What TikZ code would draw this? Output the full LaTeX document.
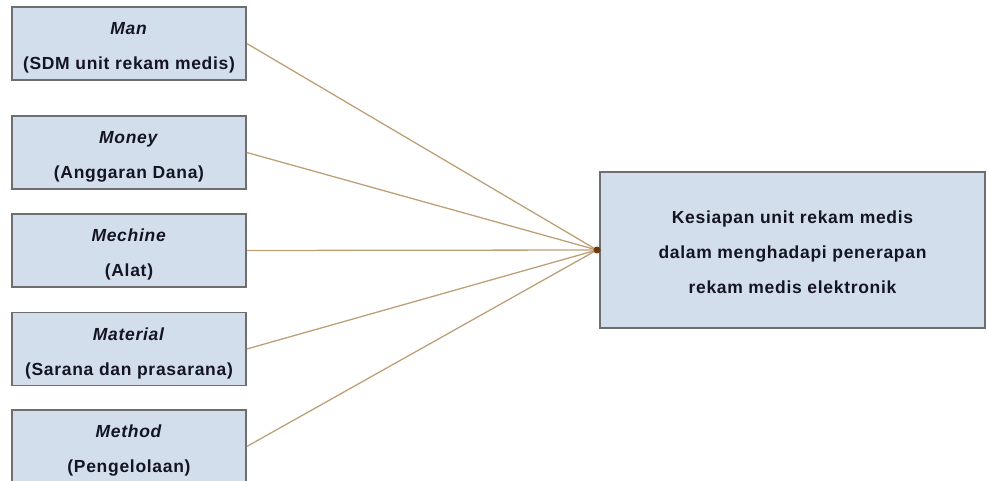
\documentclass[tikz,border=0pt]{standalone}
\usepackage{fontspec}
\setmainfont{Liberation Sans}[LetterSpace=4]
\definecolor{boxfill}{RGB}{211,222,236}
\definecolor{boxedge}{RGB}{110,110,110}
\definecolor{linecol}{RGB}{190,160,120}
\definecolor{dotcol}{RGB}{110,60,10}
\definecolor{txt}{RGB}{20,20,35}
\newcommand{\lowline}[2]{\raisebox{-#1}[\height][\depth]{#2}}
\begin{document}
\begin{tikzpicture}[x=1pt,y=-1pt,
  box/.style={draw=boxedge,line width=1.6pt,fill=boxfill,inner sep=0pt,
    text=txt,font=\fontsize{17.5}{35}\selectfont\bfseries,align=center},
  leftbox/.style={box,minimum width=234pt,minimum height=73pt},
  link/.style={draw=linecol,line width=1.3pt}]
\useasboundingbox (0,0) rectangle (987,481);
\node[leftbox] (man) at (129,43.5) {\lowline{4pt}{\textit{Man}}\\\lowline{4pt}{(SDM unit rekam medis)}};
\node[leftbox] (money) at (129,152.5) {\lowline{4pt}{\textit{Money}}\\\lowline{4pt}{(Anggaran Dana)}};
\node[leftbox] (mech) at (129,250.5) {\lowline{4pt}{\textit{Mechine}}\\\lowline{4pt}{(Alat)}};
\node[leftbox] (mat) at (129,349) {\lowline{4pt}{\textit{Material}}\\\lowline{4pt}{(Sarana dan prasarana)}};
\node[leftbox] (meth) at (129,446.5) {\lowline{4pt}{\textit{Method}}\\\lowline{4pt}{(Pengelolaan)}};
\node[box,minimum width=385pt,minimum height=156pt] (target) at (792.5,250)
  {\lowline{2.5pt}{Kesiapan unit rekam medis}\\\lowline{2.5pt}{dalam menghadapi penerapan}\\\lowline{2.5pt}{rekam medis elektronik}};
\coordinate (hub) at (597,250);
\foreach \n in {man,money,mech,mat,meth}{
  \draw[link] (\n.east) -- (hub);
}
\fill[dotcol] (hub) circle (3.5pt);
\end{tikzpicture}
\end{document}
